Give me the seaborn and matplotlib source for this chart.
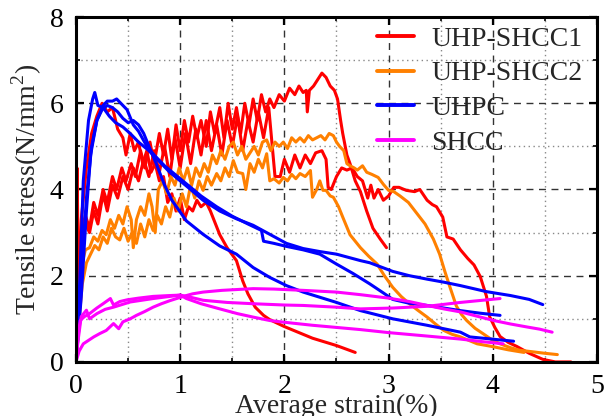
import matplotlib
matplotlib.use("Agg")
import matplotlib.pyplot as plt
from matplotlib.lines import Line2D
from matplotlib.ticker import MultipleLocator
import seaborn as sns
import pandas as pd

# ---------------- data ----------------
series_names = ["UHP-SHCC1", "UHP-SHCC2", "UHPC", "SHCC"]
series_colors = ["#ff0000", "#ff8000", "#0000ff", "#ff00ff"]

x_ticks = [0, 1, 2, 3, 4, 5]
y_ticks = [0, 2, 4, 6, 8]
x_label = "Average strain(%)"
y_label = "Tensile stress(N/mm$^2$)"

# UHP-SHCC1 specimen 1 (peak 6.7)
uhs1_a_x = [0, 0.02, 0.05, 0.09, 0.13, 0.17, 0.21, 0.26, 0.3, 0.35, 0.39, 0.44, 0.48, 0.53, 0.57, 0.62, 0.66,
            0.71, 0.75, 0.8, 0.84, 0.88, 0.92, 0.96, 1.0, 1.04, 1.08, 1.12, 1.16, 1.2, 1.25, 1.29, 1.33, 1.38,
            1.42, 1.46, 1.5, 1.54, 1.58, 1.62, 1.66, 1.7, 1.74, 1.78, 1.82, 1.86, 1.9, 1.95, 2.0, 2.05, 2.1,
            2.14, 2.18, 2.21, 2.22, 2.24, 2.28, 2.32, 2.36, 2.4, 2.44, 2.48, 2.51, 2.54, 2.56, 2.6, 2.63, 2.68,
            2.73, 2.79, 2.85, 2.92, 2.98]
uhs1_a_y = [0, 2.2, 3.0, 3.4, 3.1, 3.7, 3.4, 4.0, 3.7, 4.3, 4.0, 4.5, 4.2, 4.6, 4.3, 4.9, 4.5,
            5.1, 4.6, 5.3, 4.8, 5.4, 4.7, 5.5, 4.9, 5.6, 5.1, 5.7, 5.2, 5.6, 5.0, 5.8, 5.3, 5.9,
            5.2, 6.0, 5.4, 5.9, 5.3, 6.0, 5.5, 6.1, 5.6, 6.2, 5.8, 6.1, 5.9, 6.2, 6.05, 6.35, 6.2,
            6.4, 6.25, 6.3, 5.8, 6.3, 6.4, 6.55, 6.7, 6.6, 6.4, 6.3, 6.1, 5.6, 5.3, 4.8, 4.6, 4.2,
            3.95, 3.5, 3.1, 2.85, 2.65]

# UHP-SHCC1 specimen 2 (longest)
uhs1_b_x = [0, 0.01, 0.02, 0.05, 0.09, 0.13, 0.17, 0.21, 0.26, 0.3, 0.35, 0.4, 0.45, 0.5, 0.55, 0.6, 0.65,
            0.7, 0.75, 0.8, 0.85, 0.9, 0.95, 1.0, 1.05, 1.1, 1.15, 1.2, 1.25, 1.3, 1.35, 1.4, 1.45, 1.5,
            1.55, 1.6, 1.65, 1.7, 1.75, 1.8, 1.85, 1.88, 1.91, 1.96, 2.0, 2.05, 2.1, 2.15, 2.2, 2.25, 2.3,
            2.36, 2.4, 2.42, 2.45, 2.5, 2.55, 2.6, 2.65, 2.7, 2.75, 2.8, 2.83, 2.86, 2.9, 2.95, 3.0, 3.05,
            3.1, 3.17, 3.25, 3.3, 3.37, 3.42, 3.46, 3.52, 3.56, 3.62, 3.69, 3.76, 3.82, 3.88, 3.94, 3.97,
            4.02, 4.07, 4.15, 4.23, 4.35, 4.48, 4.6, 4.75]
uhs1_b_y = [0, 4.5, 2.6, 2.8, 3.2, 3.0, 3.5, 3.2, 3.9, 3.5, 4.1, 3.8, 4.3, 4.0, 4.5, 4.2, 4.7,
            4.3, 4.9, 4.4, 5.0, 4.3, 5.2, 4.5, 5.3, 4.6, 5.4, 4.8, 5.6, 4.9, 5.5, 4.8, 5.6, 5.0,
            5.7, 4.9, 5.6, 5.1, 5.8, 5.2, 5.9, 5.1, 4.3, 4.3, 4.7, 4.4, 4.8, 4.5, 4.8, 4.6, 4.85,
            4.9, 4.7, 4.05, 4.0, 4.3, 4.5, 4.45, 4.5, 4.3, 4.2, 3.8, 4.1, 3.8, 4.0, 3.75, 3.85, 4.05,
            4.05, 3.98, 3.95, 4.0, 3.75, 3.65, 3.6, 3.36, 2.9, 2.85, 2.6, 2.4, 2.25, 1.98, 1.52, 1.05,
            0.8, 0.59, 0.45, 0.36, 0.2, 0.06, 0.0, 0.0]

# UHP-SHCC1 specimen 3 (early peak, early failure)
uhs1_c_x = [0, 0.02, 0.05, 0.1, 0.15, 0.2, 0.25, 0.3, 0.35, 0.4, 0.45, 0.48, 0.52, 0.56, 0.6, 0.64, 0.68,
            0.72, 0.76, 0.8, 0.84, 0.88, 0.92, 0.96, 1.0, 1.04, 1.08, 1.12, 1.16, 1.2, 1.25, 1.29, 1.38,
            1.45, 1.54, 1.6, 1.65, 1.72, 1.8, 1.86, 2.0, 2.27, 2.5, 2.68]
uhs1_c_y = [0, 2.0, 3.3, 4.5, 5.3, 5.7, 6.0, 5.8, 5.9, 5.4, 5.2, 4.8, 5.3, 4.9, 5.1, 4.6, 4.9,
            4.4, 4.6, 4.2, 4.3, 3.7, 3.9, 3.5, 3.8, 3.3, 3.6, 3.5, 3.75, 3.6, 3.7, 3.5, 2.95,
            2.65, 2.35, 1.88, 1.58, 1.27, 1.08, 0.98, 0.82, 0.55, 0.38, 0.22]

# UHP-SHCC2 specimen 1
uhs2_a_x = [0, 0.02, 0.05, 0.09, 0.13, 0.17, 0.21, 0.25, 0.29, 0.33, 0.37, 0.41, 0.45, 0.49, 0.53, 0.55,
            0.58, 0.62, 0.66, 0.7, 0.73, 0.76, 0.79, 0.83, 0.87, 0.91, 0.95, 0.99, 1.03, 1.07, 1.11, 1.15,
            1.19, 1.23, 1.27, 1.31, 1.35, 1.39, 1.43, 1.47, 1.51, 1.55, 1.59, 1.63, 1.67, 1.71, 1.75, 1.79,
            1.83, 1.87, 1.91, 1.95, 1.99, 2.03, 2.07, 2.11, 2.15, 2.19, 2.23, 2.27, 2.31, 2.35, 2.39, 2.43,
            2.47, 2.5, 2.53, 2.57, 2.6, 2.63, 2.67, 2.7, 2.75, 2.79, 2.84, 2.9, 2.95, 3.0, 3.05, 3.11, 3.19,
            3.27, 3.35, 3.43, 3.49, 3.54, 3.59, 3.65, 3.7, 3.75, 3.83, 3.91, 4.0, 4.07, 4.17, 4.26, 4.4,
            4.5, 4.62]
uhs2_a_y = [0, 1.2, 2.2, 2.6, 2.65, 2.9, 2.8, 3.05, 2.95, 3.3, 3.1, 3.4, 3.2, 3.6, 3.3, 2.65,
            3.3, 3.6, 3.4, 3.9, 3.6, 3.0, 4.0, 4.2, 3.9, 4.3, 4.1, 4.5, 4.2, 4.5, 4.1, 4.5,
            4.3, 4.6, 4.4, 4.8, 4.6, 4.9, 4.7, 5.0, 5.1, 4.8, 5.0, 4.7, 4.85, 5.0, 4.8, 5.1,
            5.15, 4.9, 5.1, 5.0, 5.1, 4.95, 5.2, 5.1, 5.2, 5.1, 5.25, 5.15, 5.2, 5.25, 5.15, 5.3,
            5.25, 5.1, 5.0, 4.9, 4.6, 4.55, 4.5, 4.45, 4.55, 4.4, 4.35, 4.28, 4.12, 3.98, 3.95, 3.85, 3.7,
            3.45, 3.2, 2.85, 2.5, 2.1, 1.73, 1.3, 1.1, 0.96, 0.78, 0.65, 0.5, 0.42, 0.33, 0.27, 0.23,
            0.2, 0.17]

# UHP-SHCC2 specimen 2
uhs2_b_x = [0, 0.03, 0.06, 0.1, 0.14, 0.18, 0.22, 0.26, 0.3, 0.34, 0.38, 0.42, 0.46, 0.5, 0.54, 0.58,
            0.62, 0.66, 0.7, 0.74, 0.78, 0.82, 0.86, 0.9, 0.94, 0.98, 1.02, 1.06, 1.1, 1.14, 1.18, 1.22,
            1.26, 1.3, 1.35, 1.39, 1.43, 1.47, 1.51, 1.55, 1.6, 1.63, 1.67, 1.71, 1.75, 1.79, 1.83, 1.86,
            1.9, 1.95, 1.99, 2.03, 2.07, 2.11, 2.15, 2.2, 2.25, 2.27, 2.31, 2.34, 2.37, 2.4, 2.44, 2.47,
            2.52, 2.56, 2.63, 2.73, 2.81, 2.89, 2.96, 3.04, 3.12, 3.2, 3.28, 3.37, 3.45, 3.53, 3.61, 3.69,
            3.77, 3.85, 4.01, 4.15, 4.3]
uhs2_b_y = [0, 1.0, 1.8, 2.3, 2.5, 2.7, 2.6, 2.9, 2.75, 3.1, 2.9, 2.83, 3.1, 2.8, 3.0, 2.75,
            3.2, 2.9, 3.3, 3.05, 3.4, 3.2, 3.6, 3.36, 3.8, 3.5, 3.9, 3.6, 4.1, 3.8, 4.2, 3.98,
            4.3, 4.1, 4.37, 4.2, 4.5, 4.3, 4.67, 4.4, 4.37, 4.0, 4.6, 4.4, 4.7, 4.5, 4.83, 4.2,
            4.25, 4.15, 4.28, 4.2, 4.35, 4.25, 4.37, 4.3, 4.44, 3.82, 4.0, 4.2, 3.98, 3.98, 3.85, 3.82,
            3.6, 3.36, 2.95, 2.65, 2.45, 2.27, 2.0, 1.73, 1.52, 1.35, 1.2, 1.04, 0.88, 0.73, 0.64, 0.58,
            0.5, 0.42, 0.35, 0.28, 0.22]

# UHPC specimen 1
uhpc_a_x = [0, 0.03, 0.07, 0.12, 0.16, 0.18, 0.21, 0.26, 0.32, 0.38, 0.45, 0.52, 0.6, 0.7, 0.8, 0.9,
            1.0, 1.1, 1.22, 1.38, 1.54, 1.7, 1.86, 2.02, 2.18, 2.34, 2.5, 2.73, 2.82, 3.04, 3.2, 3.37,
            3.53, 3.69, 3.94, 4.17, 4.35, 4.48]
uhpc_a_y = [0, 1.5, 4.2, 5.6, 6.1, 6.25, 5.95, 5.9, 5.7, 5.55, 5.45, 5.3, 5.1, 4.9, 4.65, 4.4,
            4.2, 4.0, 3.75, 3.5, 3.32, 3.17, 2.96, 2.75, 2.63, 2.56, 2.5, 2.35, 2.3, 2.1, 2.0, 1.92,
            1.85, 1.77, 1.63, 1.54, 1.45, 1.33]

# UHPC specimen 2
uhpc_b_x = [0, 0.05, 0.1, 0.14, 0.2, 0.26, 0.3, 0.35, 0.39, 0.43, 0.49, 0.55, 0.6, 0.68, 0.75, 0.85,
            0.95, 1.05, 1.2, 1.35, 1.5, 1.65, 1.78, 1.8, 1.9, 2.02, 2.18, 2.34, 2.5, 2.66, 2.82, 2.95,
            3.04, 3.2, 3.37, 3.53, 3.69, 3.88, 4.07]
uhpc_b_y = [0, 1.5, 3.5, 4.8, 5.6, 5.95, 6.05, 6.05, 6.1, 6.0, 5.85, 5.5, 5.35, 5.0, 4.8, 4.55,
            4.35, 4.15, 3.85, 3.6, 3.38, 3.2, 3.05, 2.8, 2.75, 2.68, 2.6, 2.5, 2.27, 2.05, 1.81, 1.6,
            1.45, 1.36, 1.31, 1.25, 1.19, 1.13, 1.08]

# UHPC specimen 3
uhpc_c_x = [0, 0.05, 0.1, 0.15, 0.2, 0.25, 0.3, 0.35, 0.4, 0.45, 0.5, 0.55, 0.6, 0.65, 0.7, 0.77,
            0.85, 0.92, 1.06, 1.22, 1.38, 1.54, 1.7, 1.86, 2.02, 2.18, 2.5, 2.73, 3.04, 3.37, 3.69, 3.78,
            4.2]
uhpc_c_y = [0, 2.0, 3.8, 5.0, 5.6, 5.85, 5.95, 5.9, 5.8, 5.65, 5.55, 5.6, 5.5, 5.3, 5.0, 4.6,
            4.1, 3.75, 3.27, 2.96, 2.69, 2.5, 2.19, 1.96, 1.77, 1.62, 1.38, 1.19, 1.0, 0.85, 0.69, 0.58,
            0.48]

# SHCC specimen 1
shcc_a_x = [0, 0.03, 0.07, 0.12, 0.17, 0.23, 0.29, 0.36, 0.41, 0.45, 0.52, 0.58, 0.66, 0.74, 0.82, 0.9,
            1.03, 1.12, 1.22, 1.4, 1.7, 1.9, 2.18, 2.5, 2.73, 3.0, 3.2, 3.37, 3.53, 3.69, 3.85, 4.01,
            4.17, 4.33, 4.45, 4.57]
shcc_a_y = [0, 0.25, 0.42, 0.5, 0.58, 0.66, 0.73, 0.89, 0.77, 0.93, 1.0, 1.08, 1.17, 1.27, 1.35, 1.42,
            1.52, 1.58, 1.62, 1.66, 1.7, 1.69, 1.66, 1.62, 1.56, 1.48, 1.4, 1.31, 1.23, 1.16, 1.06, 0.96,
            0.88, 0.81, 0.76, 0.69]

# SHCC specimen 2
shcc_b_x = [0, 0.02, 0.05, 0.1, 0.13, 0.2, 0.28, 0.36, 0.52, 0.74, 1.0, 1.1, 1.22, 1.45, 1.7, 2.0,
            2.18, 2.5, 2.73, 3.04, 3.37, 3.69, 3.9, 4.07]
shcc_b_y = [0, 0.5, 1.05, 1.2, 1.0, 1.12, 1.22, 1.27, 1.39, 1.47, 1.55, 1.5, 1.43, 1.38, 1.35, 1.32,
            1.31, 1.27, 1.23, 1.25, 1.29, 1.38, 1.43, 1.47]

# SHCC specimen 3
shcc_c_x = [0, 0.02, 0.04, 0.08, 0.13, 0.2, 0.26, 0.33, 0.36, 0.42, 0.49, 0.6, 0.74, 0.9, 1.0, 1.06,
            1.2, 1.38, 1.55, 1.7, 1.86, 2.0, 2.27, 2.5, 2.73, 3.0, 3.37, 3.69, 3.9, 4.1]
shcc_c_y = [0, 0.6, 0.96, 1.05, 1.12, 1.25, 1.35, 1.47, 1.32, 1.4, 1.44, 1.48, 1.52, 1.54, 1.55, 1.47,
            1.35, 1.23, 1.12, 1.04, 0.96, 0.92, 0.85, 0.8, 0.75, 0.68, 0.6, 0.53, 0.47, 0.42]

curves = [
    ("UHP-SHCC1", "a1", uhs1_a_x, uhs1_a_y),
    ("UHP-SHCC1", "a2", uhs1_b_x, uhs1_b_y),
    ("UHP-SHCC1", "a3", uhs1_c_x, uhs1_c_y),
    ("UHP-SHCC2", "b1", uhs2_a_x, uhs2_a_y),
    ("UHP-SHCC2", "b2", uhs2_b_x, uhs2_b_y),
    ("UHPC", "c1", uhpc_a_x, uhpc_a_y),
    ("UHPC", "c2", uhpc_b_x, uhpc_b_y),
    ("UHPC", "c3", uhpc_c_x, uhpc_c_y),
    ("SHCC", "d1", shcc_a_x, shcc_a_y),
    ("SHCC", "d2", shcc_b_x, shcc_b_y),
    ("SHCC", "d3", shcc_c_x, shcc_c_y),
]

rows = []
for name, spec, xs, ys in curves:
    for i, (xv, yv) in enumerate(zip(xs, ys)):
        rows.append({"series": name, "specimen": spec, "order": i, "strain": xv, "stress": yv})
df = pd.DataFrame(rows)

# ---------------- styling ----------------
sns.set_theme(style="ticks")
plt.rcParams["font.family"] = ["Liberation Serif", "DejaVu Serif"]
plt.rcParams["mathtext.fontset"] = "custom"
plt.rcParams["mathtext.rm"] = "Liberation Serif"

fig = plt.figure(figsize=(6.10, 4.16), dpi=100)
ax = fig.add_axes([0.1246, 0.130, 0.854, 0.829])

palette = dict(zip(series_names, series_colors))
sns.lineplot(data=df, x="strain", y="stress", hue="series", units="specimen",
             estimator=None, sort=False, palette=palette, hue_order=series_names,
             linewidth=2.2, ax=ax, legend=False)

ax.set_xlim(0, 5)
ax.set_ylim(0, 8)
ax.set_xticks(x_ticks)
ax.set_yticks(y_ticks)
ax.xaxis.set_minor_locator(MultipleLocator(0.5))
ax.yaxis.set_minor_locator(MultipleLocator(1))
ax.grid(which="major", color="#333333", linestyle=(0, (5, 4)), linewidth=1.0)
ax.grid(which="minor", color="#888888", linestyle=(0, (1, 2.5)), linewidth=1.0)
ax.set_axisbelow(True)

ax.tick_params(which="both", direction="in", top=True, right=True, labelsize=20, colors="black")
ax.tick_params(which="major", length=6, width=1.6, pad=9)
ax.tick_params(which="minor", length=3, width=1.2)
for s in ax.spines.values():
    s.set_linewidth(2.2)
    s.set_color("black")

ax.set_xlabel(x_label, fontsize=20, labelpad=-4)
ax.set_ylabel(y_label, fontsize=20, labelpad=4)

handles = [Line2D([0], [0], color=c, lw=2.8) for c in series_colors]
ax.legend(handles, series_names, loc="upper right", bbox_to_anchor=(0.978, 0.983),
          frameon=False, fontsize=20,
          handlelength=1.35, handletextpad=0.6, labelspacing=0.33, borderpad=0.12,
          borderaxespad=0.0)

fig.savefig("out.png", dpi=100)
